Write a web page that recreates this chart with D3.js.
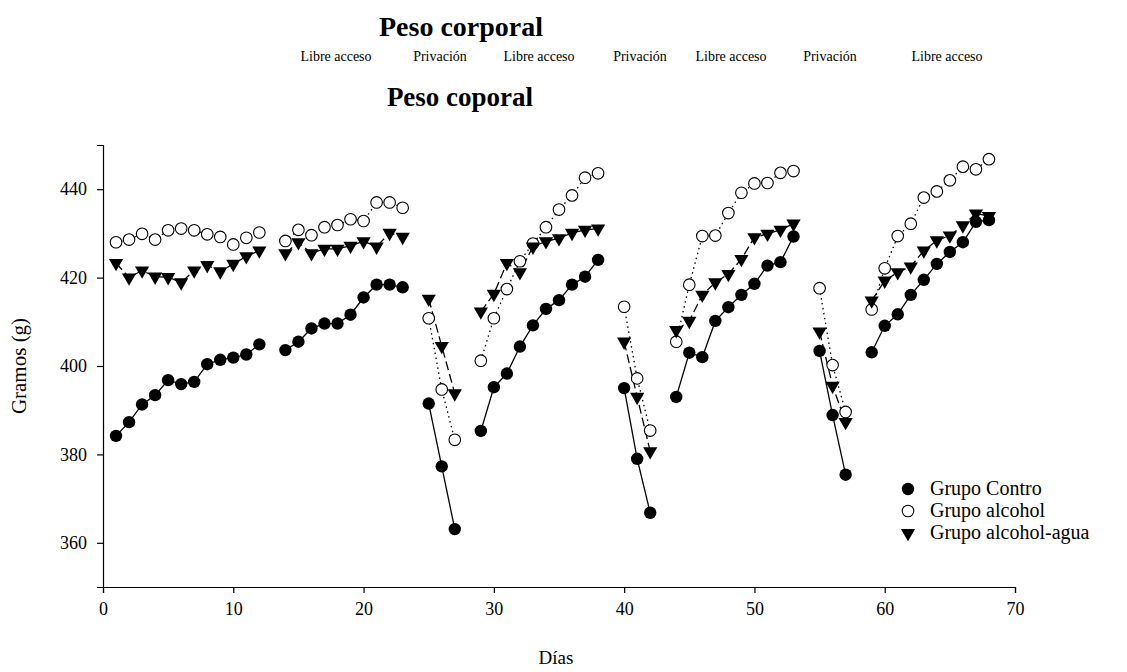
<!DOCTYPE html>
<html>
<head>
<meta charset="utf-8">
<script src="https://cdn.jsdelivr.net/npm/d3@7"></script>
<style>
  html, body { margin: 0; padding: 0; background: #fff; }
  svg { display: block; font-family: "Liberation Serif", "Times New Roman", serif; }
</style>
</head>
<body>
<svg id="chart" width="1127" height="672"></svg>
<script>
// Body weight (g) per day; null marks days without a measurement (phase changes)
const days = d3.range(1, 69);

const grupoControl = [
  384.2, 387.3, 391.3, 393.4, 396.8, 395.9, 396.4, 400.4, 401.4, 401.9, 402.6, 404.9, null,
  403.6, 405.5, 408.5, 409.6, 409.6, 411.6, 415.5, 418.4, 418.4, 417.8, null,
  391.5, 377.3, 363.1, null,
  385.3, 395.2, 398.3, 404.4, 409.2, 412.9, 414.9, 418.4, 420.2, 424.0, null,
  395.0, 379.0, 366.8, null,
  393.0, 403.0, 402.0, 410.2, 413.3, 416.1, 418.6, 422.7, 423.5, 429.3, null,
  403.4, 388.9, 375.4, null,
  403.1, 409.1, 411.7, 416.1, 419.5, 423.1, 425.8, 428.0, 432.6, 433.0
];

const grupoAlcohol = [
  428.0, 428.6, 429.9, 428.6, 430.7, 431.1, 430.7, 429.8, 429.2, 427.5, 429.0, 430.2, null,
  428.3, 430.8, 429.6, 431.4, 431.9, 433.2, 432.8, 437.0, 437.0, 435.8, null,
  410.8, 394.7, 383.3, null,
  401.2, 410.8, 417.4, 423.7, 427.7, 431.4, 435.4, 438.6, 442.6, 443.6, null,
  413.4, 397.2, 385.4, null,
  405.5, 418.4, 429.4, 429.5, 434.6, 439.2, 441.3, 441.4, 443.7, 444.1, null,
  417.6, 400.2, 389.6, null,
  412.8, 422.1, 429.4, 432.2, 438.1, 439.5, 442.0, 445.1, 444.5, 446.8
];

const grupoAlcoholAgua = [
  423.3, 420.0, 421.6, 420.2, 420.1, 418.9, 421.6, 422.8, 421.4, 423.1, 424.8, 426.1, null,
  425.5, 428.0, 425.5, 426.5, 426.5, 427.2, 428.2, 427.0, 430.1, 429.2, null,
  415.2, 404.5, 393.8, null,
  412.3, 416.3, 423.3, 421.2, 427.0, 428.2, 428.9, 430.1, 430.8, 431.1, null,
  405.5, 393.0, 380.7, null,
  408.1, 410.2, 416.1, 418.9, 420.8, 424.2, 429.1, 429.9, 430.8, 432.2, null,
  407.8, 395.5, 387.3, null,
  414.8, 419.3, 421.2, 422.5, 426.1, 428.4, 429.5, 431.8, 434.5, 433.9
];

const seriesNames = ["Grupo Contro", "Grupo alcohol", "Grupo alcohol-agua"];
const xTicks = [0, 10, 20, 30, 40, 50, 60, 70];
const yTicks = [360, 380, 400, 420, 440];
const phaseLabels = ["Libre acceso", "Privación", "Libre acceso", "Privación", "Libre acceso", "Privación", "Libre acceso"];

const svg = d3.select("#chart");
const margin = { left: 103, right: 1127 - 1015, top: 145, bottom: 672 - 587 };
const W = 1127, H = 672;

const x = d3.scaleLinear().domain([0, 70]).range([margin.left, W - margin.right]);
const y = d3.scaleLinear().domain([350, 450]).range([H - margin.bottom, margin.top]);

// Titles
svg.append("text").attr("x", 461).attr("y", 36).attr("text-anchor", "middle")
  .attr("font-size", 28).attr("font-weight", "bold").text("Peso corporal");

const phaseX = [336, 440, 539, 640, 731, 830, 947];
svg.selectAll("text.phase").data(phaseLabels).join("text")
  .attr("class", "phase")
  .attr("x", (d, i) => phaseX[i]).attr("y", 61)
  .attr("text-anchor", "middle").attr("font-size", 14).text(d => d);

svg.append("text").attr("x", 460).attr("y", 106).attr("text-anchor", "middle")
  .attr("font-size", 27).attr("font-weight", "bold").text("Peso coporal");

// Axes
const xAxis = d3.axisBottom(x).tickValues(xTicks).tickSize(6).tickPadding(9).tickFormat(d3.format("d"));
const yAxis = d3.axisLeft(y).tickValues(yTicks).tickSize(6).tickPadding(10).tickFormat(d3.format("d"));

const gx = svg.append("g").attr("transform", `translate(0,${H - margin.bottom})`).call(xAxis);
const gy = svg.append("g").attr("transform", `translate(${margin.left},0)`).call(yAxis);
[gx, gy].forEach(g => {
  g.select(".domain").attr("stroke", "#000").attr("stroke-width", 1.2);
  g.selectAll(".tick line").attr("stroke", "#000").attr("stroke-width", 1.2);
  g.selectAll(".tick text").attr("font-family", "Liberation Serif, serif").attr("font-size", 18).attr("fill", "#000");
});

svg.append("text").attr("x", 556).attr("y", 664).attr("text-anchor", "middle")
  .attr("font-size", 19).text("Días");
svg.append("text").attr("transform", "translate(26,366) rotate(-90)")
  .attr("text-anchor", "middle").attr("font-size", 21).text("Gramos (g)");

// Series
const series = [
  { name: seriesNames[0], values: grupoControl, dash: null, symbol: "fcircle" },
  { name: seriesNames[1], values: grupoAlcohol, dash: "1.5,3.5", symbol: "ocircle" },
  { name: seriesNames[2], values: grupoAlcoholAgua, dash: "9,4", symbol: "triangle" }
];

const line = d3.line()
  .defined(d => d.v !== null)
  .x(d => x(d.day)).y(d => y(d.v));

series.forEach(s => {
  const pts = days.map((day, i) => ({ day, v: s.values[i] }));
  svg.append("path").datum(pts)
    .attr("d", line)
    .attr("fill", "none").attr("stroke", "#000").attr("stroke-width", 1.3)
    .attr("stroke-dasharray", s.dash);
});

const triangleDown = d3.symbol().type(d3.symbolTriangle).size(88);

function drawMarker(g, type, cx, cy) {
  if (type === "fcircle") {
    g.append("circle").attr("cx", cx).attr("cy", cy).attr("r", 6.2).attr("fill", "#000");
  } else if (type === "ocircle") {
    g.append("circle").attr("cx", cx).attr("cy", cy).attr("r", 5.8)
      .attr("fill", "#fff").attr("stroke", "#000").attr("stroke-width", 1.1);
  } else {
    g.append("path").attr("d", triangleDown())
      .attr("transform", `translate(${cx},${cy}) rotate(180)`).attr("fill", "#000");
  }
}

series.forEach(s => {
  const g = svg.append("g");
  days.forEach((day, i) => {
    const v = s.values[i];
    if (v !== null) drawMarker(g, s.symbol, x(day), y(v));
  });
});

// Legend
const legend = svg.append("g");
series.forEach((s, i) => {
  const ly = 489 + i * 22;
  drawMarker(legend, s.symbol, 908, ly);
  legend.append("text").attr("x", 930).attr("y", ly + 6)
    .attr("font-size", 20).text(s.name);
});
</script>
</body>
</html>
